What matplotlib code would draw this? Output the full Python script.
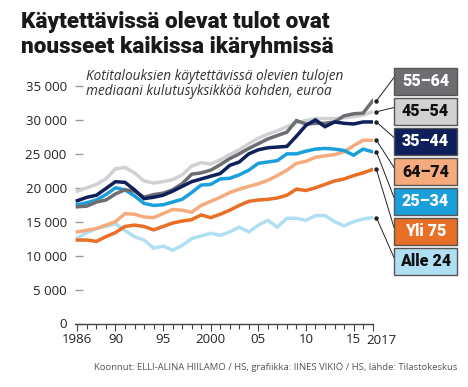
import matplotlib
matplotlib.use("Agg")
import matplotlib.pyplot as plt
from matplotlib.patches import Rectangle

plt.rcParams['font.family'] = ['Open Sans', 'DejaVu Sans']

vuodet = list(range(1986, 2018))

# mediaanitulot, tuhatta euroa
ika_55_64 = [17.2, 17.3, 17.9, 18.2, 19.1, 19.7, 19.5, 18.6, 19.0, 19.2,
             19.7, 20.6, 22.0, 22.2, 22.6, 23.4, 24.3, 25.0, 25.8, 26.5,
             27.2, 27.7, 28.2, 29.9, 29.4, 29.5, 29.5, 29.7, 30.6, 30.9,
             31.0, 32.8]
ika_45_54 = [19.5, 20.0, 20.5, 21.3, 22.8, 23.0, 22.2, 21.0, 20.7, 20.9,
             21.2, 21.9, 23.2, 23.7, 23.5, 24.1, 24.9, 25.6, 26.5, 27.3,
             27.9, 28.4, 29.0, 29.6, 29.9, 30.2, 30.2, 30.2, 30.3, 30.5,
             30.7, 31.2]
ika_35_44 = [18.1, 18.6, 18.9, 19.9, 20.9, 20.8, 19.7, 18.4, 18.6, 18.9,
             19.5, 20.2, 20.9, 21.3, 21.7, 22.1, 23.3, 23.8, 25.0, 25.6,
             25.9, 26.0, 26.1, 27.6, 29.2, 30.0, 29.0, 29.7, 29.5, 29.4,
             29.7, 29.7]
ika_64_74 = [13.5, 13.75, 14.0, 14.5, 15.0, 16.2, 16.1, 15.7, 15.6, 16.2,
             16.8, 16.7, 16.4, 17.4, 18.0, 18.6, 19.3, 19.8, 20.2, 20.6,
             21.1, 21.8, 22.6, 23.6, 23.9, 24.5, 24.7, 24.9, 25.3, 26.2,
             27.0, 27.0]
ika_25_34 = [17.5, 17.8, 18.2, 19.0, 20.0, 19.7, 18.8, 17.7, 17.4, 17.5,
             17.9, 18.3, 19.3, 20.4, 20.5, 21.3, 21.4, 21.9, 22.6, 23.6,
             23.8, 24.0, 25.0, 25.0, 25.4, 25.7, 25.8, 25.7, 25.5, 24.8,
             25.7, 25.3]
yli_75 = [12.3, 12.3, 12.1, 12.8, 13.4, 14.3, 14.5, 14.3, 13.8, 14.3,
          14.8, 15.1, 15.3, 16.0, 15.6, 16.1, 16.7, 17.4, 18.0, 18.2,
          18.3, 18.5, 18.9, 19.8, 19.6, 20.0, 20.5, 21.0, 21.3, 21.8,
          22.2, 22.7]
alle_24 = [12.6, 13.4, 14.0, 14.3, 14.7, 13.7, 12.8, 12.3, 11.1, 11.4,
           10.8, 11.5, 12.5, 12.9, 13.3, 13.0, 13.5, 14.2, 13.5, 14.5,
           15.2, 14.2, 15.5, 15.5, 15.2, 15.9, 15.9, 15.0, 14.4, 15.0,
           15.4, 15.6]

nimet = ['55–64', '45–54', '35–44', '64–74', '25–34', 'Yli 75', 'Alle 24']
sarjat = [ika_55_64, ika_45_54, ika_35_44, ika_64_74, ika_25_34, yli_75, alle_24]
varit = ['#6d6e71', '#cfd1d3', '#0e1f5b', '#f5ab7c', '#1b9fdb', '#e96f27', '#b0def2']
tekstivarit = ['white', '#111111', 'white', '#111111', 'white', 'white', '#111111']
piirtojarjestys = [6, 5, 3, 4, 1, 0, 2]

W, H = 468, 387
fig = plt.figure(figsize=(W / 100, H / 100), dpi=100)

# akselit pikseleinä: vasen reuna 75, 2017 kohdalla 372.6, nolla 323.5, 35000 kohdalla 86
x0, x1 = 75.0, 372.6
y0, y1 = 323.5, 86.0
ax = fig.add_axes([x0 / W, 1 - y0 / H, (x1 - x0) / W, (y0 - y1) / H])
ax.set_xlim(1985.75, 2017)
ax.set_ylim(0, 35000)

for i in piirtojarjestys:
    ax.plot(vuodet, [v * 1000 for v in sarjat[i]], color=varit[i], lw=2.5,
            solid_joinstyle='miter', zorder=3)

for s in ['top', 'right', 'left']:
    ax.spines[s].set_visible(False)
ax.spines['bottom'].set_color('#444444')
ax.spines['bottom'].set_linewidth(1.0)

yticks = [0, 5000, 10000, 15000, 20000, 25000, 30000, 35000]
ax.set_yticks(yticks)
ax.set_yticklabels(['{:,}'.format(t).replace(',', ' ') for t in yticks])
ax.tick_params(axis='y', direction='in', length=6, width=1.0, color='#999999',
               pad=6, labelsize=9.5, labelcolor='#222222')

xmajor = [1986, 1990, 1995, 2000, 2005, 2010, 2015, 2017]
xlabels = ['1986', '90', '95', '2000', '05', '10', '15', '']
ax.set_xticks(xmajor)
ax.set_xticklabels(xlabels)
ax.set_xticks(vuodet, minor=True)
ax.tick_params(axis='x', which='major', direction='out', length=5, width=0.8,
               color='#444444', pad=2, labelsize=9.5, labelcolor='#222222')
ax.tick_params(axis='x', which='minor', direction='out', length=3.5, width=0.8,
               color='#444444')
ax.text(2017.95, -0.045, '2017', transform=ax.get_xaxis_transform(),
        ha='center', va='top', fontsize=9.5, color='#222222')

# otsikko
otsikkofontti = ['Roboto', 'DejaVu Sans']
fig.text(21 / W, 1 - 28 / H, 'Käytettävissä olevat tulot ovat', fontsize=16.2,
         fontweight='heavy', family=otsikkofontti, color='#1a1a1a', ha='left', va='baseline')
fig.text(21 / W, 1 - 53 / H, 'nousseet kaikissa ikäryhmissä', fontsize=16.2,
         fontweight='heavy', family=otsikkofontti, color='#1a1a1a', ha='left', va='baseline')

fig.text(86 / W, 1 - 95 / H,
         'Kotitalouksien käytettävissä olevien tulojen\nmediaani kulutusyksikköä kohden, euroa',
         fontsize=9.8, style='italic', color='#333333', ha='left', va='baseline',
         linespacing=0.98)

fig.text(457 / W, 1 - 367 / H,
         'Koonnut: ELLI-ALINA HIILAMO / HS, grafiikka: IINES VIKIÖ / HS, lähde: Tilastokeskus',
         fontsize=6.8, color='#555555', ha='right', va='center')

# selitelaatikot oikealla
bx, bw, bh = 394, 63, 27
for k, nimi in enumerate(nimet):
    top = 68 + 30 * k
    fig.add_artist(Rectangle((bx / W, 1 - (top + bh) / H), bw / W, bh / H,
                             transform=fig.transFigure, facecolor=varit[k],
                             edgecolor='#555555', lw=1.0))
    fig.text((bx + bw / 2) / W, 1 - (top + bh / 2) / H, nimi, fontsize=11.5,
             fontweight='heavy', family=otsikkofontti, color=tekstivarit[k],
             ha='center', va='center')
    loppu = sarjat[k][-1] * 1000
    ax.plot([2017.4], [loppu], marker='o', ms=2.2, color='#222222',
            clip_on=False, zorder=5)
    ax.annotate('', xy=(bx / W, 1 - (top + bh / 2 - 4) / H), xycoords='figure fraction',
                xytext=(2017.4, loppu), textcoords='data',
                arrowprops=dict(arrowstyle='-', lw=0.7, color='#222222',
                                shrinkA=0, shrinkB=0))

fig.savefig('out.png', dpi=100)
